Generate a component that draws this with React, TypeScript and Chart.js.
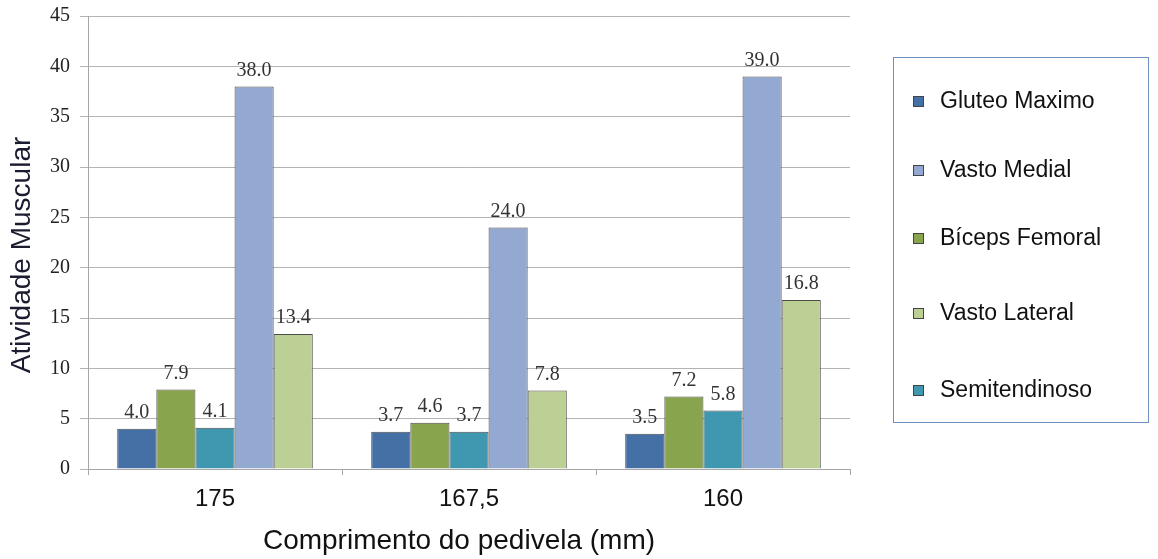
import React, { useEffect, useRef } from "react";
import { Chart, registerables } from "chart.js";

Chart.register(...registerables);

const categories = ["175", "167,5", "160"];

const seriesNames = [
  "Gluteo Maximo",
  "Bíceps Femoral",
  "Semitendinoso",
  "Vasto Medial",
  "Vasto Lateral",
];

const gluteoMaximo = [4.0, 3.7, 3.5];
const bicepsFemoral = [7.9, 4.6, 7.2];
const semitendinoso = [4.1, 3.7, 5.8];
const vastoMedial = [38.0, 24.0, 39.0];
const vastoLateral = [13.4, 7.8, 16.8];

const seriesColors = ["#4470a6", "#88a44c", "#3f98b0", "#93a9d1", "#bccf95"];

// order of entries in the side legend (indices into seriesNames)
const legendOrder = [0, 3, 1, 4, 2];

const yTicks = [0, 5, 10, 15, 20, 25, 30, 35, 40, 45];

const xTitle = "Comprimento do pedivela (mm)";
const yTitle = "Atividade Muscular";

// value labels above each bar
const valueLabels = {
  id: "valueLabels",
  afterDatasetsDraw(chart: any) {
    const ctx = chart.ctx;
    ctx.save();
    ctx.font = '20px "Liberation Serif", "DejaVu Serif", serif';
    ctx.fillStyle = "#333";
    ctx.textAlign = "center";
    ctx.textBaseline = "bottom";
    chart.data.datasets.forEach((ds: any, i: number) => {
      const meta = chart.getDatasetMeta(i);
      meta.data.forEach((bar: any, j: number) => {
        ctx.fillText(Number(ds.data[j]).toFixed(1), bar.x, bar.y - 6);
      });
    });
    ctx.restore();
  },
};

// axis titles
const axisTitles = {
  id: "axisTitles",
  afterDraw(chart: any) {
    const ctx = chart.ctx;
    ctx.save();
    ctx.font = '28px "Liberation Sans", Arial, sans-serif';
    ctx.textAlign = "center";
    ctx.textBaseline = "middle";
    ctx.fillStyle = "#111";
    ctx.fillText(xTitle, 459, 541);
    ctx.translate(22, 255);
    ctx.rotate(-Math.PI / 2);
    ctx.fillStyle = "#1c1c30";
    ctx.fillText(yTitle, 0, 0);
    ctx.restore();
  },
};

// boxed legend on the right side
const legendRowOffsets = [44, 113, 181, 256, 333];
const boxLegend = {
  id: "boxLegend",
  afterDraw(chart: any) {
    const ctx = chart.ctx;
    const left = 893;
    const top = 57;
    const w = 255;
    const h = 365;
    ctx.save();
    ctx.strokeStyle = "#6f8fc0";
    ctx.lineWidth = 1;
    ctx.strokeRect(left + 0.5, top + 0.5, w, h);
    ctx.font = '23px "Liberation Sans", Arial, sans-serif';
    ctx.textBaseline = "middle";
    ctx.textAlign = "left";
    legendOrder.forEach((idx, k) => {
      const ds = chart.data.datasets[idx];
      const cy = top + legendRowOffsets[k];
      ctx.fillStyle = ds.backgroundColor;
      ctx.fillRect(left + 20, cy - 5, 11, 11);
      ctx.strokeStyle = "#444";
      ctx.strokeRect(left + 20.5, cy - 4.5, 10, 10);
      ctx.fillStyle = "#111";
      ctx.fillText(ds.label, left + 47, cy + 1);
    });
    ctx.restore();
  },
};

export default function App() {
  const canvasRef = useRef<HTMLCanvasElement | null>(null);

  useEffect(() => {
    document.body.style.margin = "0";
    const canvas = canvasRef.current;
    if (!canvas) return;
    const dataSeries = [gluteoMaximo, bicepsFemoral, semitendinoso, vastoMedial, vastoLateral];
    const chart = new Chart(canvas, {
      type: "bar",
      data: {
        labels: categories,
        datasets: dataSeries.map((values, i) => ({
          label: seriesNames[i],
          data: values,
          backgroundColor: seriesColors[i],
          borderColor: "#4d4d4d",
          borderWidth: 1,
          categoryPercentage: 0.77,
          barPercentage: 1.0,
        })),
      },
      options: {
        animation: false,
        responsive: false,
        layout: { padding: { top: 16, right: 308, left: 0, bottom: 0 } },
        plugins: {
          legend: { display: false },
          tooltip: { enabled: false },
        },
        scales: {
          x: {
            grid: {
              display: true,
              drawOnChartArea: false,
              drawTicks: true,
              tickLength: 6,
              color: "#a6a6a6",
              offset: true,
            },
            border: { display: true, color: "#a6a6a6" },
            ticks: {
              color: "#111",
              padding: 10,
              font: { family: '"Liberation Sans", Arial, sans-serif', size: 24 },
            },
            afterFit(scale: any) {
              scale.height = 90;
            },
          },
          y: {
            min: 0,
            max: 45,
            afterBuildTicks(scale: any) {
              scale.ticks = yTicks.map((v) => ({ value: v }));
            },
            grid: {
              color: "#b3b3b3",
              tickLength: 8,
              lineWidth: 1,
            },
            border: { display: true, color: "#a6a6a6" },
            ticks: {
              color: "#222",
              padding: 10,
              font: { family: '"Liberation Serif", "DejaVu Serif", serif', size: 20 },
            },
            afterFit(scale: any) {
              scale.width = 88;
              scale.paddingTop = 0;
              scale.paddingBottom = 0;
            },
          },
        },
      },
      plugins: [valueLabels, axisTitles, boxLegend],
    });
    return () => chart.destroy();
  }, []);

  return (
    <div style={{ width: 1158, height: 559 }}>
      <canvas ref={canvasRef} width={1158} height={559} style={{ display: "block" }} />
    </div>
  );
}
